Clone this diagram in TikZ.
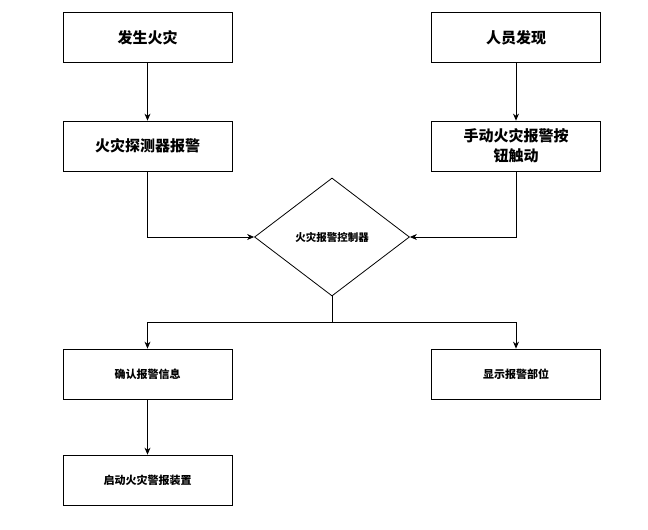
\documentclass[tikz,border=0pt]{standalone}
\usepackage{fontspec}
\newfontfamily\cjk{Noto Sans CJK SC}
\usetikzlibrary{shapes.geometric,arrows.meta}
\begin{document}
\begin{tikzpicture}[x=1pt,y=-1pt,
 box/.style={draw,thick,minimum width=169pt,minimum height=50pt,align=center,inner sep=0pt},
 big/.style={font=\cjk\bfseries\fontsize{15}{20}\selectfont},
 small/.style={font=\cjk\bfseries\fontsize{11}{14}\selectfont},
 arr/.style={thick,-{Stealth[length=7pt,width=6pt]}}]
\useasboundingbox (0,0) rectangle (648,530);
\node[box,big] (a) at (147.5,37.5) {发生火灾};
\node[box,big] (b) at (516,37.5) {人员发现};
\node[box,big] (c) at (147.5,146) {火灾探测器报警};
\node[box,big] (d) at (516,146) {手动火灾报警按\\钮触动};
\node[draw,thick,diamond,minimum width=155pt,minimum height=118pt,inner sep=0pt,font=\cjk\bfseries\fontsize{10.5}{13}\selectfont] (e) at (332,237) {火灾报警控制器};
\node[box,small] (f) at (147.5,374) {确认报警信息};
\node[box,small] (g) at (516,374) {显示报警部位};
\node[box,small] (h) at (147.5,480) {启动火灾警报装置};
\coordinate (j) at (332,322);
\draw[arr] (a) -- (c);
\draw[arr] (b) -- (d);
\draw[arr] (c.south) |- (e.west);
\draw[arr] (d.south) |- (e.east);
\draw[thick] (e.south) -- (j);
\draw[arr] (j) -| (f.north);
\draw[arr] (j) -| (g.north);
\draw[arr] (f) -- (h);
\end{tikzpicture}
\end{document}
